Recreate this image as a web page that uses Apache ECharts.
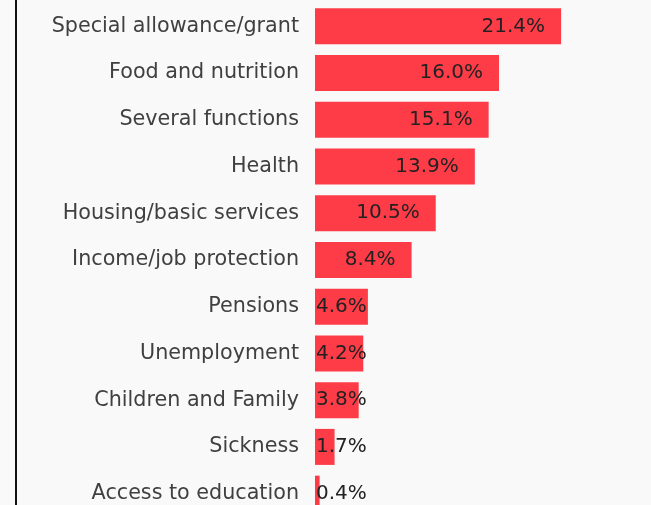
<!DOCTYPE html>
<html>
<head>
<meta charset="utf-8">
<script src="https://cdn.jsdelivr.net/npm/echarts@6/dist/echarts.min.js"></script>
<style>
  html, body { margin: 0; padding: 0; background: #f9f9f9; overflow: hidden; }
  #chart { width: 651px; height: 517px; }
</style>
</head>
<body>
<div id="chart"></div>
<script>
// Share of measures by function (percent)
const categories = [
  'Special allowance/grant',
  'Food and nutrition',
  'Several functions',
  'Health',
  'Housing/basic services',
  'Income/job protection',
  'Pensions',
  'Unemployment',
  'Children and Family',
  'Sickness',
  'Access to education'
];
const shares = [21.4, 16.0, 15.1, 13.9, 10.5, 8.4, 4.6, 4.2, 3.8, 1.7, 0.4];

const FONT = '"DejaVu Sans", Verdana, sans-serif';
const CAT_FONT_SIZE = 20.7;
const VAL_FONT_SIZE = 20;
const GRID_LEFT = 315;
const GRID_WIDTH = 322;
const X_MAX = 28;
const LABEL_PAD = 16;

const fmt = v => v.toFixed(1) + '%';

// measure label text to decide whether it fits inside the bar
const ctx = document.createElement('canvas').getContext('2d');
ctx.font = VAL_FONT_SIZE + 'px ' + FONT;

const barData = shares.map(v => {
  const barW = v / X_MAX * GRID_WIDTH;
  const textW = ctx.measureText(fmt(v)).width;
  const fits = barW - LABEL_PAD >= textW;
  return {
    value: v,
    label: fits
      ? { position: 'insideRight', distance: LABEL_PAD }
      : { position: 'insideLeft', distance: 1 }
  };
});

const chart = echarts.init(document.getElementById('chart'), null, { renderer: 'canvas' });
chart.setOption({
  backgroundColor: '#f9f9f9',
  animation: false,
  grid: { left: GRID_LEFT, top: 3, width: GRID_WIDTH, bottom: 0, containLabel: false },
  xAxis: {
    type: 'value', min: 0, max: X_MAX, show: false
  },
  yAxis: {
    type: 'category',
    data: categories,
    inverse: true,
    axisLine: { show: false },
    axisTick: { show: false },
    axisLabel: {
      margin: 16,
      color: '#404040',
      fontFamily: FONT,
      fontSize: CAT_FONT_SIZE
    }
  },
  series: [{
    type: 'bar',
    data: barData,
    barWidth: 36,
    itemStyle: { color: '#fe3c48' },
    label: {
      show: true,
      formatter: p => fmt(p.value),
      color: '#222',
      fontFamily: FONT,
      fontSize: VAL_FONT_SIZE
    }
  }],
  graphic: [{
    type: 'rect',
    shape: { x: 15, y: 0, width: 2, height: 517 },
    style: { fill: '#111' },
    silent: true
  }]
});
</script>
</body>
</html>
